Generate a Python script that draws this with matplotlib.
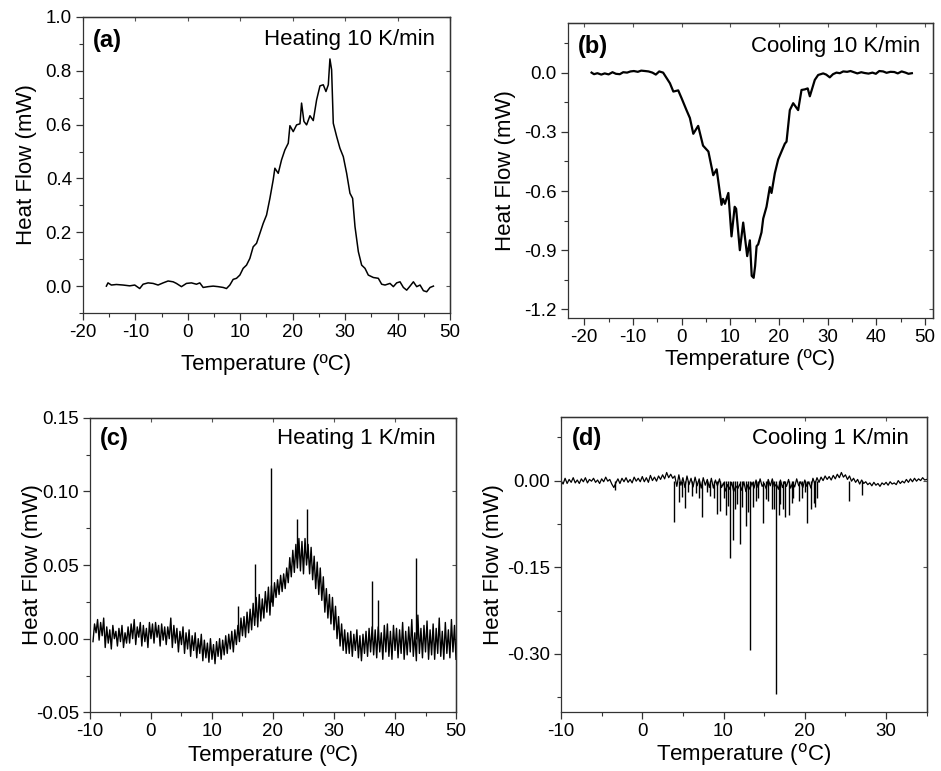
import numpy as np
import matplotlib
matplotlib.use('Agg')
import matplotlib.pyplot as plt
from matplotlib.ticker import MultipleLocator, FormatStrFormatter

plt.rcParams['font.family'] = ['Liberation Sans', 'DejaVu Sans']
plt.rcParams['axes.unicode_minus'] = False

# (a) heating 10 K/min
temp_a = [-15.54, -15.23, -14.59, -13.63, -12.36, -11.09, -10.13, -9.18, -8.54, -7.59,
          -6.63, -5.68, -4.72, -3.77, -2.81, -2.18, -1.22, -0.27, 0.69, 1.64,
          2.28, 2.92, 3.87, 4.83, 5.78, 6.74, 7.37, 8.01, 8.64, 9.28,
          9.92, 10.55, 11.19, 11.83, 12.46, 13.10, 13.74, 14.37, 15.01, 15.65,
          16.28, 16.60, 17.24, 17.87, 18.51, 19.15, 19.47, 20.10, 20.74, 21.38,
          21.69, 22.14, 22.65, 23.29, 23.92, 24.56, 25.20, 25.83, 26.34, 26.79,
          27.10, 27.42, 27.74, 28.38, 29.01, 29.65, 30.29, 30.92, 31.43, 31.88,
          32.52, 33.15, 33.79, 34.42, 35.38, 36.33, 36.97, 37.61, 38.56, 39.20,
          39.83, 40.47, 41.11, 41.74, 42.38, 43.02, 43.65, 44.29, 44.93, 45.56,
          46.20, 46.84]
heat_a = [0.0, 0.012, 0.004, 0.006, 0.004, 0.001, 0.004, -0.009, 0.007, 0.012,
          0.010, 0.004, 0.012, 0.019, 0.016, 0.010, -0.002, 0.010, 0.012, 0.007,
          0.012, -0.005, -0.002, 0.0, -0.002, -0.005, -0.009, 0.004, 0.025, 0.029,
          0.041, 0.066, 0.078, 0.103, 0.146, 0.159, 0.196, 0.233, 0.264, 0.326,
          0.395, 0.438, 0.419, 0.469, 0.506, 0.531, 0.596, 0.574, 0.599, 0.603,
          0.680, 0.612, 0.599, 0.633, 0.615, 0.692, 0.744, 0.748, 0.723, 0.748,
          0.844, 0.804, 0.605, 0.556, 0.512, 0.481, 0.419, 0.345, 0.326, 0.221,
          0.128, 0.078, 0.066, 0.041, 0.032, 0.029, 0.007, 0.004, 0.010, -0.002,
          0.012, 0.016, -0.005, -0.015, 0.0, 0.016, -0.002, 0.004, -0.017, -0.021,
          -0.005, 0.0]

# (b) cooling 10 K/min
temp_b = [-18.5, -18.0, -17.3, -16.5, -15.8, -15.0, -14.2, -13.5, -12.7, -12.0,
          -11.2, -10.5, -9.8, -9.0, -8.3, -7.5, -6.8, -6.0, -5.3, -4.6,
          -3.8, -2.4, -1.7, -0.7, 0.0, 1.0, 1.7, 2.4, 3.4, 4.4,
          5.5, 6.5, 7.2, 7.7, 8.2, 8.5, 8.9, 9.6, 10.25, 10.9,
          11.2, 11.96, 12.65, 13.47, 14.02, 14.4, 14.8, 15.1, 15.4, 15.73,
          16.41, 16.76, 17.44, 18.12, 18.47, 19.15, 19.84, 20.52, 21.21, 21.55,
          22.23, 22.92, 23.94, 24.63, 25.3, 25.9, 26.34, 27.36, 28.05, 29.08,
          29.7, 30.44, 31.1, 31.81, 32.5, 33.2, 34.0, 34.7, 35.4, 36.1,
          36.9, 37.6, 38.4, 39.2, 39.9, 40.6, 41.4, 42.1, 42.9, 43.7,
          44.4, 45.2, 46.0, 46.6, 47.3]
heat_b = [0.0, -0.008, -0.003, -0.010, -0.004, -0.009, 0.002, -0.006, -0.008, 0.002,
          0.0, 0.006, 0.008, 0.004, 0.010, 0.008, 0.006, 0.0, -0.010, 0.006,
          0.0, -0.054, -0.096, -0.090, -0.130, -0.190, -0.230, -0.310, -0.270, -0.370,
          -0.400, -0.520, -0.490, -0.580, -0.670, -0.640, -0.665, -0.610, -0.830, -0.680,
          -0.690, -0.900, -0.760, -0.930, -0.850, -1.030, -1.040, -0.980, -0.880, -0.870,
          -0.810, -0.740, -0.680, -0.580, -0.610, -0.510, -0.440, -0.400, -0.360, -0.350,
          -0.190, -0.155, -0.190, -0.088, -0.085, -0.080, -0.120, -0.037, -0.012, -0.004,
          -0.010, -0.024, -0.008, 0.0, -0.003, 0.006, 0.004, 0.008, 0.002, -0.004,
          0.002, -0.002, -0.005, 0.0, -0.006, 0.008, 0.006, -0.001, 0.004, 0.003,
          -0.004, 0.006, 0.0, -0.006, -0.003]

# (c) heating 1 K/min, sampled every 0.25 C from -9.5 C (values in uW)
temp_c_start, temp_c_step = -9.5, 0.25
heat_c_uw = [-2, 10, 4, 13, -1, 11, 2, 14,
             -6, 8, -3, 6, -7, 9, 0, 5,
             -5, 7, -2, 9, -6, 4, -3, 8,
             -3, 10, 0, 13, -4, 8, 1, 11,
             -5, 9, -2, 7, -6, 11, 0, 10,
             -3, 11, 1, 9, -5, 10, -1, 8,
             -4, 8, 0, 14, -6, 9, -3, 7,
             -9, 5, -4, 8, -10, 4, -7, 6,
             -12, 2, -8, 4, -13, 0, -10, 3,
             -15, -1, -13, -3, -16, 0, -14, -4,
             -17, -2, -12, 0, -14, -1, -11, 2,
             -10, 3, -7, 5, -9, 6, -4, 9,
             -2, 14, 2, 15, 1, 18, 4, 20,
             6, 24, 9, 28, 8, 30, 12, 27,
             14, 32, 18, 35, 16, 36, 22, 38,
             28, 40, 30, 43, 32, 44, 34, 48,
             38, 55, 42, 60, 45, 64, 48, 68,
             46, 66, 44, 68, 50, 64, 44, 62,
             40, 56, 34, 52, 30, 48, 26, 42,
             18, 34, 14, 30, 10, 28, 6, 22,
             0, 15, -5, 10, -8, 6, -10, 4,
             -10, 5, -12, 3, -8, 6, -13, 2,
             -15, 3, -10, 5, -12, 7, -9, 8,
             -11, 6, -13, 8, -9, 4, -14, 9,
             -9, 10, -12, 5, -14, 9, -8, 7,
             -13, 6, -10, 11, -14, 5, -11, 8,
             -9, 13, -12, 4, -15, 16, -10, 7,
             -13, 9, -9, 12, -14, 6, -11, 10,
             -14, 7, -10, 14, -12, 5, -14, 11,
             -10, 6, -13, 13, -9, 9, -14]
spike_c_temp = [14.3, 17.05, 19.62, 23.88, 25.63, 36.28, 37.16, 43.39]
spike_c_base = [0.005, 0.015, 0.025, 0.055, 0.055, 0.0, 0.0, 0.0]
spike_c_top = [0.022, 0.051, 0.116, 0.081, 0.088, 0.039, 0.026, 0.055]

# (d) cooling 1 K/min, sampled every 0.25 C from -10 C (values in uW)
temp_d_start, temp_d_step = -10.0, 0.25
heat_d_uw = [0, -6, 4, -5, 2, -3, 5, -4,
             1, -5, 3, -2, 5, -4, 2, -1,
             4, -3, 1, -5, 3, -2, 6, -1,
             2, -6, -12, -4, 3, -5, 4, -2,
             5, -3, 2, -4, 6, -1, 4, -2,
             7, -2, 5, -3, 9, 0, 6, -1,
             8, 2, 10, 3, 14, 5, 11, 4,
             8, -10, 10, -8, 5, -12, 8, -7,
             4, -11, 6, -9, 3, -13, 5, -8,
             2, -12, 4, -13, 1, -9, 3, -12,
             -4, -18, -7, -15, -3, -19, -9, -14,
             -6, -17, -2, -19, -7, -15, -3, -13,
             1, -12, 3, -10, -5, -14, 2, -9,
             3, -11, -6, -15, 1, -12, -2, -10,
             2, -13, -4, -11, 3, -9, -2, -12,
             1, -10, -2, -13, 4, -6, 5, -3,
             6, 0, 8, 2, 7, 1, 9, 3,
             11, 5, 14, 6, 10, 2, 8, -1,
             4, -3, 2, -6, 1, -5, -2, -7,
             -4, -9, -3, -8, -5, -10, -4, -7,
             -3, -8, -2, -6, -4, -7, 0, -5,
             -1, -4, 2, -3, 3, -2, 4, -1,
             3, 0, 5, 1, 2]
spike_d_temp = [-3.35, 3.88, 4.46, 4.9, 5.28, 5.6, 6.10, 6.6, 7.0, 7.33,
                8.0, 8.36, 8.8, 9.18, 9.59, 10.0, 10.3, 10.50, 10.82, 11.19,
                11.4, 11.7, 12.05, 12.3, 12.79, 13.0, 13.28, 13.6, 14.02, 14.3,
                14.85, 15.26, 15.5, 15.95, 16.2, 16.45, 16.78, 17.0, 17.3, 17.60,
                18.00, 18.42, 18.6, 19.24, 19.6, 20.0, 20.27, 20.76, 21.10, 21.3,
                21.5, 25.48, 27.04]
spike_d_depth = [-0.016, -0.071, -0.037, -0.028, -0.048, -0.020, -0.026, -0.022, -0.030, -0.063,
                 -0.020, -0.026, -0.030, -0.058, -0.053, -0.030, -0.060, -0.044, -0.134, -0.102,
                 -0.050, -0.040, -0.110, -0.045, -0.078, -0.055, -0.293, -0.045, -0.035, -0.030,
                 -0.073, -0.032, -0.035, -0.050, -0.050, -0.370, -0.060, -0.040, -0.050, -0.063,
                 -0.060, -0.039, -0.030, -0.036, -0.030, -0.020, -0.073, -0.050, -0.038, -0.045,
                 -0.030, -0.035, -0.025]

temp_c = temp_c_start + temp_c_step * np.arange(len(heat_c_uw))
temp_d = temp_d_start + temp_d_step * np.arange(len(heat_d_uw))
heat_c = np.array(heat_c_uw) / 1000.0
heat_d = np.array(heat_d_uw) / 1000.0

fig = plt.figure(figsize=(9.41, 7.71), dpi=100)
ax_a = fig.add_axes([0.0882, 0.594, 0.390, 0.384])
ax_b = fig.add_axes([0.6033, 0.5872, 0.3885, 0.3826])
ax_c = fig.add_axes([0.0956, 0.0761, 0.389, 0.3821])
ax_d = fig.add_axes([0.5962, 0.0769, 0.3886, 0.3822])

ax_a.plot(temp_a, heat_a, color='black', lw=1.1)
ax_b.plot(temp_b, heat_b, color='black', lw=1.6)
ax_c.plot(temp_c, heat_c, color='black', lw=1.0)
ax_c.vlines(spike_c_temp, spike_c_base, spike_c_top, color='black', lw=1.0)
ax_d.plot(temp_d, heat_d, color='black', lw=0.9)
ax_d.vlines(spike_d_temp, 0.0, spike_d_depth, color='black', lw=1.0)

ax_a.set_xlim(-20, 50)
ax_a.set_ylim(-0.1, 1.0)
ax_b.set_xlim(-23.4, 51.7)
ax_b.set_ylim(-1.245, 0.25)
ax_c.set_xlim(-10, 50)
ax_c.set_ylim(-0.05, 0.15)
ax_d.set_xlim(-10, 35)
ax_d.set_ylim(-0.40, 0.11)

ax_a.xaxis.set_major_locator(MultipleLocator(10))
ax_a.xaxis.set_minor_locator(MultipleLocator(5))
ax_a.yaxis.set_major_locator(MultipleLocator(0.2))
ax_a.yaxis.set_minor_locator(MultipleLocator(0.1))
ax_a.yaxis.set_major_formatter(FormatStrFormatter('%.1f'))

ax_b.xaxis.set_major_locator(MultipleLocator(10))
ax_b.xaxis.set_minor_locator(MultipleLocator(5))
ax_b.yaxis.set_major_locator(MultipleLocator(0.3))
ax_b.yaxis.set_minor_locator(MultipleLocator(0.15))
ax_b.yaxis.set_major_formatter(FormatStrFormatter('%.1f'))

ax_c.xaxis.set_major_locator(MultipleLocator(10))
ax_c.xaxis.set_minor_locator(MultipleLocator(5))
ax_c.yaxis.set_major_locator(MultipleLocator(0.05))
ax_c.yaxis.set_minor_locator(MultipleLocator(0.025))
ax_c.yaxis.set_major_formatter(FormatStrFormatter('%.2f'))

ax_d.xaxis.set_major_locator(MultipleLocator(10))
ax_d.xaxis.set_minor_locator(MultipleLocator(5))
ax_d.yaxis.set_major_locator(MultipleLocator(0.15))
ax_d.yaxis.set_minor_locator(MultipleLocator(0.075))
ax_d.yaxis.set_major_formatter(FormatStrFormatter('%.2f'))

labels = ['(a)', '(b)', '(c)', '(d)']
rates = ['Heating 10 K/min', 'Cooling 10 K/min', 'Heating 1 K/min', 'Cooling 1 K/min']
label_pos = [(0.027, 0.919), (0.028, 0.921), (0.027, 0.93), (0.029, 0.928)]
rate_pos = [(0.959, 0.925), (0.9655, 0.921), (0.943, 0.93), (0.95, 0.928)]
xlabels = ['Temperature (\u00baC)', 'Temperature (\u00baC)', 'Temperature (\u00baC)',
           'Temperature ($^{\\mathrm{o}}$C)']
xpads = [9, 2, 3, 1]
ypads = [6, 6, -5, 2]

for i, ax in enumerate([ax_a, ax_b, ax_c, ax_d]):
    for side in ['top', 'right', 'bottom', 'left']:
        ax.spines[side].set_linewidth(0.9)
        ax.spines[side].set_color('#333333')
    ax.tick_params(which='both', direction='out', top=False, right=False,
                   labelsize=13.5, color='#333333', pad=3)
    ax.tick_params(which='major', length=5, width=0.9)
    ax.tick_params(which='minor', length=3, width=0.8)
    ax.set_xlabel(xlabels[i], fontsize=16, labelpad=xpads[i])
    ax.set_ylabel('Heat Flow (mW)', fontsize=16, labelpad=ypads[i])
    ax.text(label_pos[i][0], label_pos[i][1], labels[i], transform=ax.transAxes,
            fontsize=17, fontweight='bold', ha='left', va='center')
    ax.text(rate_pos[i][0], rate_pos[i][1], rates[i], transform=ax.transAxes,
            fontsize=16, ha='right', va='center')
    # small mirrored ticks on top and right
    ax_t = ax.secondary_xaxis('top')
    ax_t.set_xticks(ax.get_xticks())
    ax_t.tick_params(direction='in', length=3, labeltop=False, color='#555555')
    ax_r = ax.secondary_yaxis('right')
    ax_r.tick_params(direction='in', length=3, labelright=False, color='#555555')
    ax_r.set_yticks(ax.get_yticks())
    ax_t.spines['top'].set_linewidth(0.9)
    ax_r.spines['right'].set_linewidth(0.9)

fig.savefig('out.png', dpi=100)
